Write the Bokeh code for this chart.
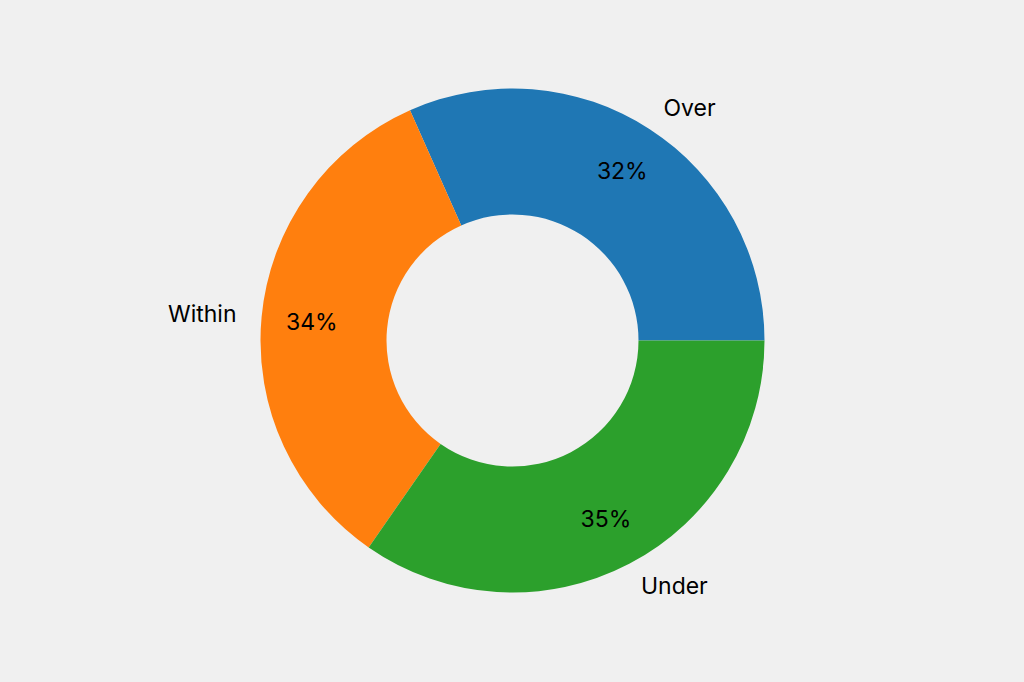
import math

from bokeh.plotting import figure
from bokeh.embed import file_html
from bokeh.resources import INLINE
from bokeh.core.properties import value

# data
labels = ["Over", "Within", "Under"]
counts = [95, 101, 104]
colors = ["#1f77b4", "#ff7f0e", "#2ca02c"]

total = float(sum(counts))
fracs = [c / total for c in counts]

starts = []
ends = []
a = 0.0
for f in fracs:
    starts.append(a)
    a += f * 2 * math.pi
    ends.append(a)
mids = [(s + e) / 2 for s, e in zip(starts, ends)]

# 252 px per unit, ring centred at (512, 340) on the page
W, H, R = 1008, 666, 252.0
p = figure(width=W, height=H,
           x_range=(-512 / R, (W - 512) / R), y_range=(-(H - 340) / R, 340 / R),
           toolbar_location=None, output_backend="svg", min_border=0)
p.axis.visible = False
p.grid.visible = False
p.outline_line_color = None
p.background_fill_color = "#f0f0f0"
p.border_fill_color = "#f0f0f0"

p.annular_wedge(x=0, y=0, inner_radius=0.5, outer_radius=1.0,
                start_angle=starts, end_angle=ends, color=colors, line_color=None)

# category labels, outside the ring
lx = [1.1 * math.cos(m) for m in mids]
ly = [1.1 * math.sin(m) for m in mids]
align = ["left" if x > 0 else "right" for x in lx]
p.text(x=lx, y=ly, text=labels, text_align=align, text_baseline="middle",
       text_font=value("Inter"), text_font_size="23px", text_color="black")

# percent labels inside the ring
px = [0.8 * math.cos(m) for m in mids]
py = [0.8 * math.sin(m) for m in mids]
pct = ["%.0f%%" % (f * 100) for f in fracs]
p.text(x=px, y=py, text=pct, text_align="center", text_baseline="middle",
       text_font=value("Inter"), text_font_size="23px", text_color="black")

html = file_html(p, INLINE)
html = html.replace("<body>", '<body style="background:#f0f0f0">')
open("out.html", "w").write(html)
